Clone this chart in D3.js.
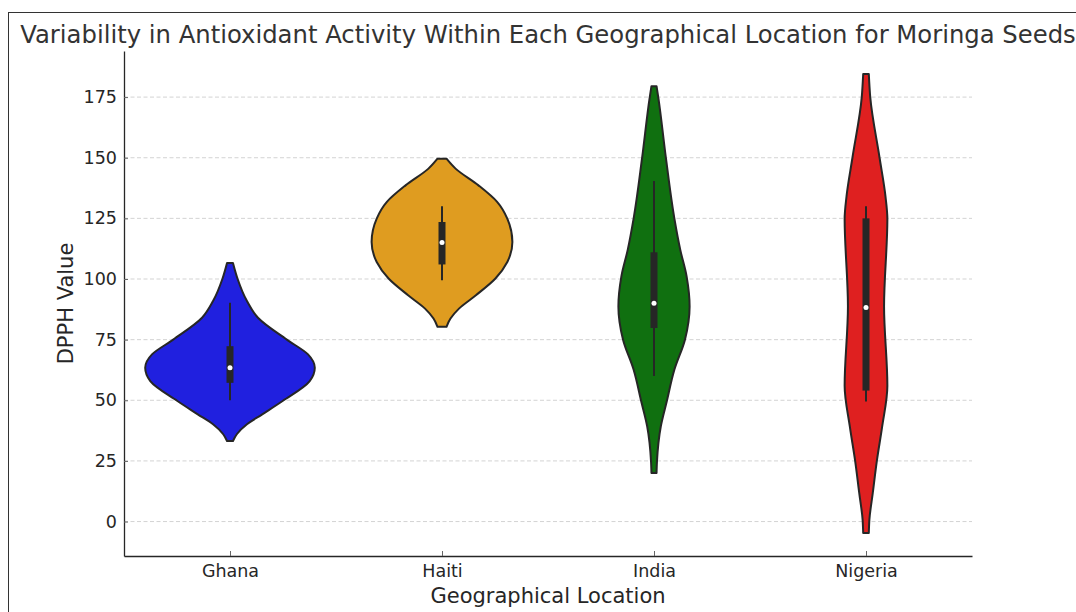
<!DOCTYPE html>
<html>
<head>
<meta charset="utf-8">
<script src="https://cdn.jsdelivr.net/npm/d3@7"></script>
<style>
  html, body { margin: 0; padding: 0; background: #ffffff; }
  svg { display: block; font-family: "DejaVu Sans", sans-serif; }
</style>
</head>
<body>
<svg id="chart" width="1076" height="612"></svg>
<script>
// Categories and colours
const locations = ["Ghana", "Haiti", "India", "Nigeria"];
const fillColors = ["#2020df", "#df9c20", "#107010", "#df2020"];

// Box summary per location (DPPH value)
const whiskerLow  = [50, 99.5, 60, 49.5];
const quartile1   = [57.2, 106, 79.8, 54];
const medians     = [63.4, 115, 90, 88.3];
const quartile3   = [72.3, 123.5, 111, 125];
const whiskerHigh = [90.2, 130, 140.4, 130];

// Kernel density outlines: [DPPH value, relative density]
const ghanaDensity = [
  [33.2, 0.035], [36, 0.08], [40.1, 0.2], [44.2, 0.38], [49.7, 0.62],
  [57.9, 0.94], [63.4, 1.0], [68.9, 0.92], [75, 0.67], [84, 0.33],
  [90.9, 0.2], [100, 0.09], [106.6, 0.035]
];
const haitiDensity = [
  [80.3, 0.053], [83.7, 0.1], [87.8, 0.2], [93.3, 0.4], [100.2, 0.63],
  [107, 0.77], [115.3, 0.83], [124.9, 0.77], [131.8, 0.65], [138.6, 0.43],
  [145.5, 0.16], [149.6, 0.053]
];
const indiaDensity = [
  [20, 0.03], [24.8, 0.035], [39.2, 0.08], [49.5, 0.15], [62.6, 0.24],
  [75, 0.365], [88.7, 0.42], [101, 0.385], [112, 0.31], [125, 0.24],
  [150, 0.14], [175, 0.05], [179.5, 0.03]
];
const nigeriaDensity = [
  [-4.7, 0.033], [0.8, 0.04], [11.8, 0.08], [25.5, 0.13], [39, 0.19],
  [56, 0.252], [88.7, 0.213], [124.8, 0.252], [134, 0.23], [150, 0.16],
  [175, 0.05], [184.5, 0.033]
];
const densities = [ghanaDensity, haitiDensity, indiaDensity, nigeriaDensity];

// Axis ticks
const yTicks = [0, 25, 50, 75, 100, 125, 150, 175];

const svg = d3.select("#chart");
const W = 1076, H = 612;
const margin = { left: 124, right: 104, top: 51, bottom: 56 };
const plotL = margin.left, plotR = W - margin.right;
const plotT = margin.top, plotB = H - margin.bottom;

const x = d3.scalePoint().domain(locations).range([plotL, plotR]).padding(0.5);
const y = d3.scaleLinear().domain([-14.2, 194]).range([plotB, plotT]);

const maxDensity = d3.max(densities.flat(), d => d[1]);
const halfWidth = d3.scaleLinear().domain([0, maxDensity]).range([0, x.step() * 0.4]);

// Outer figure frame
svg.append("rect")
  .attr("x", 8.5).attr("y", 12.5)
  .attr("width", W + 10).attr("height", H + 10)
  .attr("fill", "none").attr("stroke", "#333333").attr("stroke-width", 1);

// Horizontal grid
svg.append("g").selectAll("line").data(yTicks).join("line")
  .attr("x1", plotL).attr("x2", plotR)
  .attr("y1", d => y(d)).attr("y2", d => y(d))
  .attr("stroke", "#c8c8c8").attr("stroke-width", 0.8)
  .attr("stroke-dasharray", "4,2.5");

// Violins
const area = d3.area()
  .curve(d3.curveMonotoneY)
  .y(d => y(d[0]));

const violins = svg.append("g").selectAll("g").data(locations).join("g");
violins.append("path")
  .attr("d", (loc, i) => {
    const cx = x(loc);
    return area.x0(d => cx - halfWidth(d[1])).x1(d => cx + halfWidth(d[1]))(densities[i]);
  })
  .attr("fill", (d, i) => fillColors[i])
  .attr("stroke", "#262626").attr("stroke-width", 2)
  .attr("stroke-linejoin", "round");

// Whiskers
violins.append("line")
  .attr("x1", d => x(d)).attr("x2", d => x(d))
  .attr("y1", (d, i) => y(whiskerLow[i])).attr("y2", (d, i) => y(whiskerHigh[i]))
  .attr("stroke", "#262626").attr("stroke-width", 2);

// Inter-quartile box
violins.append("rect")
  .attr("x", d => x(d) - 3.5).attr("width", 7)
  .attr("y", (d, i) => y(quartile3[i]))
  .attr("height", (d, i) => y(quartile1[i]) - y(quartile3[i]))
  .attr("fill", "#262626");

// Median marker
violins.append("circle")
  .attr("cx", d => x(d)).attr("cy", (d, i) => y(medians[i]))
  .attr("r", 2.5).attr("fill", "#ffffff");

// Axes (ticks point into the plot)
const yAxis = d3.axisLeft(y).tickValues(yTicks).tickSize(-4).tickSizeOuter(0).tickPadding(7);
const gy = svg.append("g").attr("transform", `translate(${plotL},0)`).call(yAxis);
gy.select(".domain").attr("stroke", "#262626").attr("stroke-width", 1.3);
gy.selectAll(".tick line").attr("stroke", "#666666");
gy.selectAll(".tick text").attr("font-size", 17.5).attr("fill", "#262626")
  .attr("font-family", "DejaVu Sans");

const xAxis = d3.axisBottom(x).tickSize(-5).tickSizeOuter(0).tickPadding(9);
const gx = svg.append("g").attr("transform", `translate(0,${plotB})`).call(xAxis);
gx.select(".domain").attr("stroke", "#262626").attr("stroke-width", 1.3);
gx.selectAll(".tick line").attr("stroke", "#666666");
gx.selectAll(".tick text").attr("font-size", 17.5).attr("fill", "#262626")
  .attr("font-family", "DejaVu Sans");

// Titles
svg.append("text")
  .attr("x", (plotL + plotR) / 2).attr("y", 43)
  .attr("text-anchor", "middle").attr("font-size", 24.3).attr("fill", "#333333")
  .text("Variability in Antioxidant Activity Within Each Geographical Location for Moringa Seeds");

svg.append("text")
  .attr("x", (plotL + plotR) / 2).attr("y", 603)
  .attr("text-anchor", "middle").attr("font-size", 21).attr("fill", "#262626")
  .text("Geographical Location");

svg.append("text")
  .attr("transform", `translate(73,${(plotT + plotB) / 2}) rotate(-90)`)
  .attr("text-anchor", "middle").attr("font-size", 21).attr("fill", "#262626")
  .text("DPPH Value");
</script>
</body>
</html>
